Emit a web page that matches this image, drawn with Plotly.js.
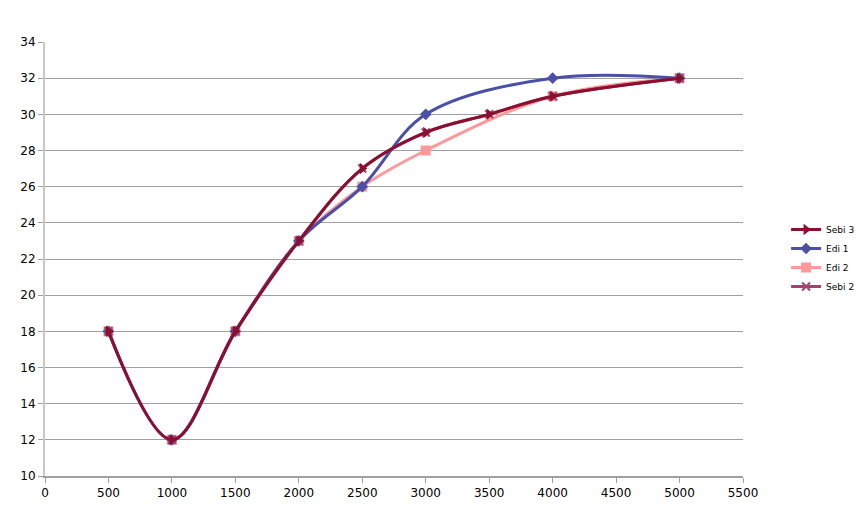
<!DOCTYPE html>
<html><head><meta charset="utf-8">
<script src="https://cdn.plot.ly/plotly-3.0.1.min.js"></script>
<style>html,body{margin:0;padding:0;background:#fff}</style>
</head><body>
<div id="chart" style="width:861px;height:516px"></div>
<script>
const xSebi = [500, 1000, 1500, 2000, 2500, 3000, 3500, 4000, 5000];
const ySebi3 = [18, 12, 18, 23, 27, 29, 30, 31, 32];
const ySebi2 = [18, 12, 18, 23, 27, 29, 30, 31, 32];
const xEdi = [500, 1000, 1500, 2000, 2500, 3000, 4000, 5000];
const yEdi1 = [18, 12, 18, 23, 26, 30, 32, 32];
const yEdi2 = [18, 12, 18, 23, 26, 28, 31, 32];
const xTicks = [0, 500, 1000, 1500, 2000, 2500, 3000, 3500, 4000, 4500, 5000, 5500];
const yTicks = [10, 12, 14, 16, 18, 20, 22, 24, 26, 28, 30, 32, 34];

const traces = [
  {name: 'Edi 2', x: xEdi, y: yEdi2, mode: 'lines+markers', legendrank: 3,
   line: {color: '#FF9999', width: 3, shape: 'spline', smoothing: 1},
   marker: {symbol: 'square', size: 10, color: '#FF9999'}},
  {name: 'Edi 1', x: xEdi, y: yEdi1, mode: 'lines+markers', legendrank: 2,
   line: {color: '#4A50A8', width: 3, shape: 'spline', smoothing: 1},
   marker: {symbol: 'diamond', size: 9, color: '#4A50A8'}},
  {name: 'Sebi 2', x: xSebi, y: ySebi2, mode: 'lines+markers', legendrank: 4,
   line: {color: '#A8406E', width: 3, shape: 'spline', smoothing: 1},
   marker: {symbol: 'x-thin', size: 8, color: '#A8406E', line: {width: 2, color: '#A8406E'}}},
  {name: 'Sebi 3', x: xSebi, y: ySebi3, mode: 'lines+markers', legendrank: 1,
   line: {color: '#8C0F30', width: 3, shape: 'spline', smoothing: 1},
   marker: {symbol: 'triangle-right', size: 10, color: '#8C0F30'}}
];

const layout = {
  width: 861, height: 516,
  margin: {l: 45, r: 118, t: 42, b: 40},
  paper_bgcolor: '#fff', plot_bgcolor: '#fff',
  font: {family: 'DejaVu Sans, sans-serif', size: 12, color: '#000'},
  showlegend: true,
  legend: {xref: 'container', yref: 'container', x: 0.913, xanchor: 'left', y: 0.5, yanchor: 'middle',
           font: {size: 9, color: '#000'}, tracegroupgap: 0},
  xaxis: {range: [0, 5500], tickvals: xTicks, ticktext: xTicks.map(String),
          showgrid: false, zeroline: false, showline: true, linecolor: '#A0A0A0', linewidth: 2,
          ticks: 'outside', ticklen: 5, tickcolor: '#A0A0A0', fixedrange: true},
  yaxis: {range: [10, 34], tickvals: yTicks, ticktext: yTicks.map(String),
          showgrid: true, gridcolor: '#A0A0A0', gridwidth: 1, zeroline: false,
          showline: true, linecolor: '#C8C8C8', linewidth: 2,
          ticks: 'outside', ticklen: 5, tickcolor: '#A0A0A0', fixedrange: true}
};
Plotly.newPlot('chart', traces, layout, {displayModeBar: false, staticPlot: true});
</script>
</body></html>
